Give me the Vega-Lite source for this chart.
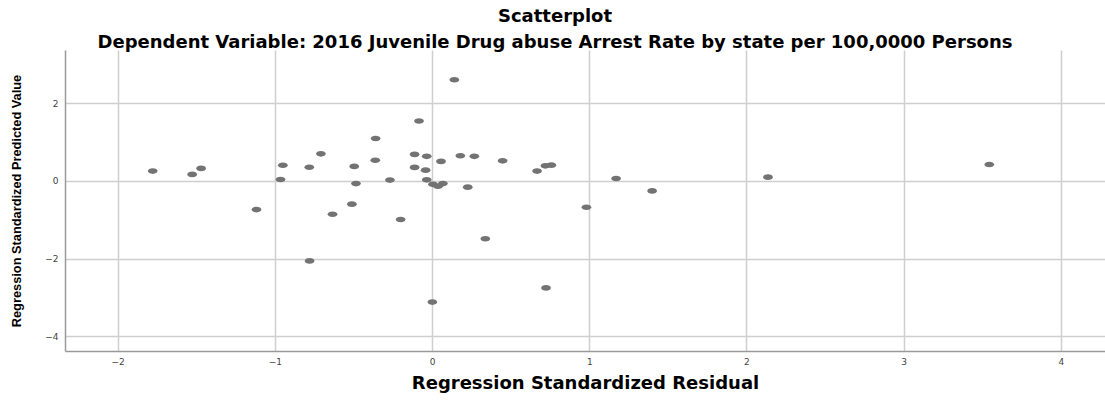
{
  "$schema": "https://vega.github.io/schema/vega-lite/v6.json",
  "width": 1040,
  "height": 301,
  "autosize": "none",
  "padding": {"left": 65, "top": 50, "right": 0, "bottom": 51},
  "background": "white",
  "config": {"view": {"stroke": null}},
  "title": {
    "text": "Scatterplot",
    "subtitle": "Dependent Variable: 2016 Juvenile Drug abuse Arrest Rate by state per 100,0000 Persons",
    "anchor": "middle",
    "dx": -30,
    "offset": -2,
    "font": "DejaVu Sans",
    "fontSize": 18,
    "fontWeight": "bold",
    "color": "#000000",
    "subtitleFont": "DejaVu Sans",
    "subtitleFontSize": 18,
    "subtitleFontWeight": "bold",
    "subtitleColor": "#000000",
    "subtitlePadding": 8
  },
  "data": {
    "values": [
      {"residual": -1.777, "predicted": 0.25},
      {"residual": -1.526, "predicted": 0.165},
      {"residual": -1.469, "predicted": 0.32},
      {"residual": -1.117, "predicted": -0.74},
      {"residual": -0.949, "predicted": 0.4},
      {"residual": -0.964, "predicted": 0.035},
      {"residual": -0.707, "predicted": 0.695},
      {"residual": -0.781, "predicted": 0.35},
      {"residual": -0.633, "predicted": -0.86},
      {"residual": -0.51, "predicted": -0.6},
      {"residual": -0.495, "predicted": 0.37},
      {"residual": -0.484, "predicted": -0.07},
      {"residual": -0.359, "predicted": 1.09},
      {"residual": -0.361, "predicted": 0.53},
      {"residual": -0.268, "predicted": 0.02},
      {"residual": -0.2, "predicted": -0.995},
      {"residual": -0.083, "predicted": 1.54},
      {"residual": -0.111, "predicted": 0.68},
      {"residual": -0.034, "predicted": 0.63},
      {"residual": -0.111, "predicted": 0.345},
      {"residual": -0.041, "predicted": 0.275},
      {"residual": -0.034, "predicted": 0.026},
      {"residual": 0.006, "predicted": -0.09},
      {"residual": 0.038, "predicted": -0.14},
      {"residual": 0.069, "predicted": -0.07},
      {"residual": 0.057, "predicted": 0.5},
      {"residual": 0.142, "predicted": 2.6},
      {"residual": 0.18, "predicted": 0.645},
      {"residual": 0.269, "predicted": 0.63},
      {"residual": 0.449, "predicted": 0.515},
      {"residual": 0.668, "predicted": 0.25},
      {"residual": 0.721, "predicted": 0.386},
      {"residual": 0.759, "predicted": 0.404},
      {"residual": 0.227, "predicted": -0.162},
      {"residual": 1.171, "predicted": 0.06},
      {"residual": 1.4, "predicted": -0.26},
      {"residual": 0.982, "predicted": -0.68},
      {"residual": 0.339, "predicted": -1.49},
      {"residual": 0.725, "predicted": -2.755},
      {"residual": 0.002, "predicted": -3.12},
      {"residual": -0.779, "predicted": -2.06},
      {"residual": 2.137, "predicted": 0.095},
      {"residual": 3.545, "predicted": 0.42}
    ]
  },
  "mark": {
    "type": "point",
    "filled": true,
    "opacity": 1,
    "color": "#737373",
    "shape": "M -1 0 A 1 0.58 0 1 0 1 0 A 1 0.58 0 1 0 -1 0 Z",
    "size": 95
  },
  "encoding": {
    "x": {
      "field": "residual",
      "type": "quantitative",
      "scale": {"domain": [-2.335, 4.281], "nice": false, "zero": false},
      "axis": {
        "title": "Regression Standardized Residual",
        "values": [-2, -1, 0, 1, 2, 3, 4],
        "grid": true,
        "gridColor": "#cfcfcf",
        "gridWidth": 1.5,
        "ticks": false,
        "domain": true,
        "domainColor": "#9a9a9a",
        "domainWidth": 1.5,
        "labelFont": "DejaVu Sans",
        "labelFontSize": 9,
        "labelColor": "#444444",
        "labelPadding": 6,
        "titleFont": "DejaVu Sans",
        "titleFontSize": 18,
        "titleFontWeight": "bold",
        "titleColor": "#000000",
        "titlePadding": 8
      }
    },
    "y": {
      "field": "predicted",
      "type": "quantitative",
      "scale": {"domain": [-4.378, 3.366], "nice": false, "zero": false},
      "axis": {
        "title": "Regression Standardized Predicted Value",
        "values": [-4, -2, 0, 2],
        "grid": true,
        "gridColor": "#cfcfcf",
        "gridWidth": 1.5,
        "ticks": false,
        "domain": true,
        "domainColor": "#9a9a9a",
        "domainWidth": 1.5,
        "labelFont": "DejaVu Sans",
        "labelFontSize": 9,
        "labelColor": "#444444",
        "labelPadding": 7,
        "titleFont": "Liberation Sans",
        "titleFontSize": 12.8,
        "titleFontWeight": "bold",
        "titleColor": "#000000",
        "titlePadding": 21
      }
    }
  }
}
